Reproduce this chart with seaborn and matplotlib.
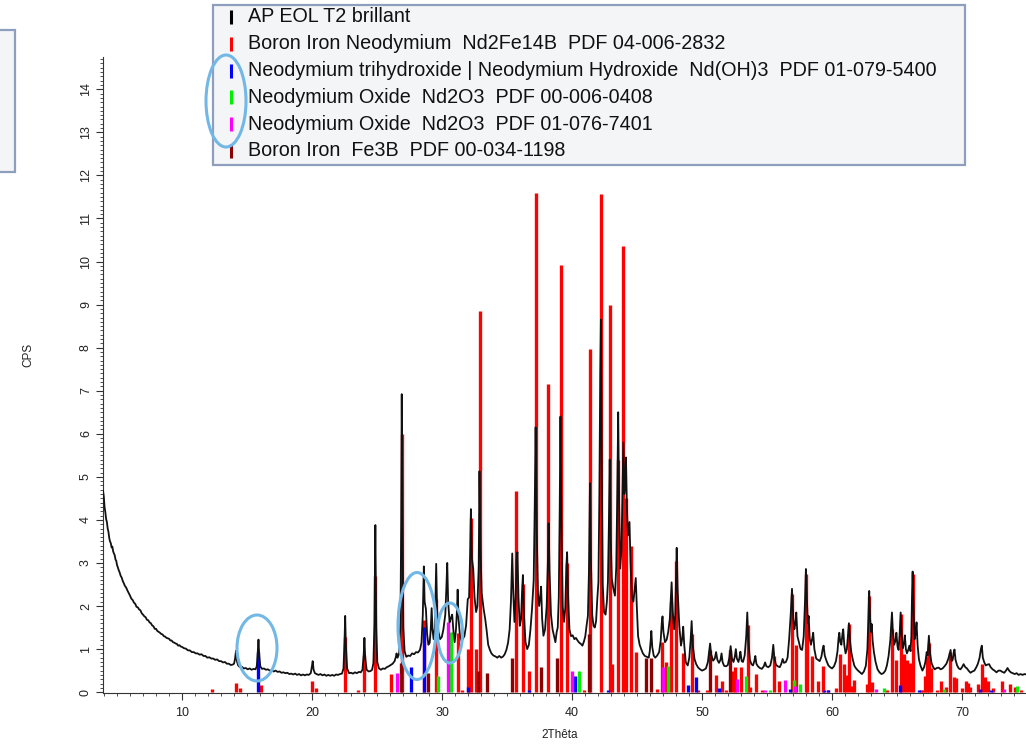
import matplotlib
matplotlib.use("Agg")
from matplotlib import pyplot as plt
from matplotlib.patches import Rectangle, Ellipse
from matplotlib.lines import Line2D
from matplotlib.ticker import MultipleLocator
import numpy as np
import pandas as pd
import seaborn as sns

scan_low = [
    (3.92, 4.68), (3.98, 4.55), (4.04, 4.30), (4.10, 4.18), (4.16, 4.02), (4.22, 3.95), (4.28, 3.80),
    (4.34, 3.72), (4.40, 3.58), (4.46, 3.50), (4.52, 3.46), (4.58, 3.36), (4.64, 3.38), (4.70, 3.27),
    (4.76, 3.22), (4.82, 3.18), (4.88, 3.08), (4.94, 3.05), (5.00, 2.95), (5.06, 2.90), (5.12, 2.84),
    (5.20, 2.78), (5.28, 2.70), (5.36, 2.66), (5.44, 2.58), (5.52, 2.53), (5.60, 2.47), (5.70, 2.43),
    (5.80, 2.36), (5.90, 2.30), (6.00, 2.24), (6.10, 2.17), (6.20, 2.14), (6.30, 2.08), (6.40, 2.05),
    (6.50, 1.98), (6.60, 1.97), (6.70, 1.92), (6.80, 1.90), (6.90, 1.83), (7.00, 1.80), (7.10, 1.76),
    (7.20, 1.74), (7.30, 1.68), (7.40, 1.67), (7.50, 1.62), (7.60, 1.60), (7.70, 1.55), (7.80, 1.53),
    (7.90, 1.47), (8.00, 1.47), (8.10, 1.42), (8.20, 1.40), (8.30, 1.38), (8.40, 1.35), (8.50, 1.34),
    (8.60, 1.30), (8.70, 1.29), (8.80, 1.26), (8.90, 1.25), (9.00, 1.24), (9.10, 1.20), (9.20, 1.20),
    (9.30, 1.16), (9.40, 1.15), (9.50, 1.13), (9.60, 1.12), (9.70, 1.08), (9.80, 1.09), (9.90, 1.06),
    (10.00, 1.05), (10.15, 1.02), (10.30, 1.01), (10.45, 0.97), (10.60, 0.97), (10.75, 0.93),
    (10.90, 0.93), (11.05, 0.90), (11.20, 0.90), (11.35, 0.87), (11.50, 0.88), (11.65, 0.84),
    (11.80, 0.84), (11.95, 0.80), (12.10, 0.81), (12.25, 0.78), (12.40, 0.78), (12.55, 0.75),
    (12.70, 0.76), (12.85, 0.72), (13.00, 0.72), (13.15, 0.69), (13.30, 0.70), (13.45, 0.66),
    (13.60, 0.66), (13.75, 0.63), (13.90, 0.64), (14.00, 0.66), (14.08, 0.78), (14.15, 0.96),
    (14.22, 0.72), (14.32, 0.62), (14.45, 0.58), (14.60, 0.59), (14.75, 0.55), (14.90, 0.56),
    (15.05, 0.53), (15.20, 0.55), (15.35, 0.52), (15.50, 0.54), (15.65, 0.53), (15.75, 0.60),
    (15.82, 0.90), (15.88, 1.22), (15.94, 0.85), (16.02, 0.60), (16.15, 0.54), (16.30, 0.55),
    (16.45, 0.52), (16.60, 0.53), (16.75, 0.50), (16.90, 0.51), (17.05, 0.48), (17.20, 0.50),
    (17.35, 0.47), (17.50, 0.48), (17.65, 0.45), (17.80, 0.46), (17.95, 0.44), (18.10, 0.45),
    (18.25, 0.42), (18.40, 0.43), (18.55, 0.41), (18.70, 0.43), (18.85, 0.40), (19.00, 0.42),
    (19.15, 0.39), (19.30, 0.41), (19.45, 0.39), (19.60, 0.41), (19.75, 0.40), (19.90, 0.44),
    (19.98, 0.58), (20.05, 0.72), (20.12, 0.52), (20.22, 0.44), (20.35, 0.42), (20.50, 0.40),
    (20.65, 0.42), (20.80, 0.39), (20.95, 0.41), (21.10, 0.38), (21.25, 0.40), (21.40, 0.38),
    (21.55, 0.40), (21.70, 0.38), (21.85, 0.41), (22.00, 0.40), (22.15, 0.42), (22.30, 0.43),
    (22.42, 0.55), (22.50, 1.20), (22.55, 1.77), (22.60, 1.10), (22.70, 0.55), (22.85, 0.44),
    (23.00, 0.45), (23.15, 0.43), (23.30, 0.46), (23.45, 0.44), (23.60, 0.47), (23.75, 0.46),
    (23.88, 0.52), (23.97, 0.85), (24.03, 1.26), (24.09, 0.80), (24.20, 0.52), (24.35, 0.48),
    (24.50, 0.49), (24.62, 0.52), (24.72, 0.68), (24.80, 1.60), (24.87, 3.88), (24.94, 1.50),
    (25.02, 0.70), (25.15, 0.55), (25.30, 0.52), (25.45, 0.55), (25.60, 0.54), (25.75, 0.58),
    (25.90, 0.60), (26.05, 0.63), (26.20, 0.66), (26.35, 0.72), (26.45, 0.82), (26.50, 0.90),
    (26.58, 0.80), (26.70, 0.90), (26.80, 1.60), (26.86, 4.00), (26.90, 6.92), (26.95, 4.20),
    (27.02, 1.50), (27.12, 0.95), (27.25, 0.82), (27.40, 0.85), (27.55, 0.84), (27.70, 0.90),
    (27.85, 0.88), (28.00, 0.93), (28.15, 0.92), (28.30, 0.98),
]
scan_mid = [
    (28.42, 1.15), (28.52, 1.80), (28.60, 2.92), (28.66, 2.10), (28.76, 1.93), (28.85, 1.35),
    (28.95, 1.10), (29.05, 1.15), (29.13, 1.45), (29.20, 1.95), (29.27, 1.45), (29.35, 1.23),
    (29.45, 1.50), (29.55, 2.98), (29.62, 1.90), (29.72, 1.40), (29.85, 1.23), (29.98, 1.28),
    (30.10, 1.45), (30.25, 1.80), (30.33, 2.40), (30.40, 3.00), (30.47, 2.10), (30.58, 1.62),
    (30.68, 1.72), (30.78, 1.80), (30.88, 1.40), (30.97, 1.16), (31.07, 1.45), (31.15, 1.90),
    (31.20, 2.38), (31.27, 1.70), (31.38, 1.30), (31.50, 1.19), (31.62, 1.25), (31.72, 1.30),
    (31.85, 1.55), (31.98, 2.16), (32.08, 2.20), (32.16, 3.20), (32.22, 4.25), (32.30, 3.10),
    (32.40, 2.86), (32.50, 2.20), (32.62, 1.86), (32.72, 2.00), (32.82, 2.90), (32.88, 5.13),
    (32.95, 3.40), (33.05, 2.30), (33.20, 1.93), (33.32, 1.70), (33.42, 1.46), (33.55, 1.10),
    (33.68, 0.98), (33.80, 0.90), (33.95, 0.85), (34.10, 0.83), (34.25, 0.80), (34.40, 0.84),
    (34.55, 0.80), (34.70, 0.83), (34.82, 0.88), (34.95, 0.98), (35.08, 1.15), (35.20, 1.46),
    (35.30, 2.10), (35.40, 3.22), (35.48, 2.30), (35.57, 1.63), (35.66, 2.20), (35.74, 3.10),
    (35.80, 3.25), (35.88, 2.20), (35.98, 1.54), (36.08, 1.70), (36.15, 2.30), (36.22, 2.72),
    (36.30, 1.80), (36.42, 1.16), (36.55, 1.00), (36.68, 1.10), (36.80, 1.45), (36.92, 1.93),
    (37.05, 2.60), (37.13, 4.30), (37.20, 6.15), (37.28, 3.80), (37.38, 2.30), (37.47, 2.00),
    (37.55, 2.20), (37.62, 2.45), (37.70, 1.70), (37.80, 1.31), (37.92, 1.45), (38.05, 2.00),
    (38.14, 3.00), (38.20, 3.92), (38.27, 2.80), (38.38, 1.80), (38.50, 1.46), (38.62, 1.30),
    (38.72, 1.16), (38.82, 1.40), (38.90, 1.50), (38.98, 2.20), (39.05, 4.20), (39.11, 6.40),
    (39.18, 3.90), (39.28, 2.00), (39.38, 1.63), (39.48, 1.95), (39.56, 2.90), (39.62, 3.25),
    (39.70, 2.20), (39.80, 1.46), (39.92, 1.30), (40.05, 1.32), (40.18, 1.23), (40.30, 1.26),
    (40.42, 1.20), (40.55, 1.15), (40.68, 1.12), (40.80, 1.08), (40.92, 1.18), (41.02, 1.30),
    (41.12, 1.55), (41.22, 1.77), (41.30, 2.80), (41.38, 4.85), (41.45, 3.10), (41.55, 1.80),
    (41.65, 1.54), (41.75, 1.50), (41.85, 1.65), (41.95, 2.20), (42.03, 2.56), (42.10, 4.50),
    (42.17, 7.40), (42.22, 8.65), (42.28, 5.50), (42.36, 2.50), (42.46, 1.86), (42.58, 1.80),
    (42.68, 2.10), (42.76, 2.56), (42.83, 3.80), (42.90, 5.40), (42.97, 3.60), (43.06, 2.63),
    (43.18, 2.40), (43.30, 2.24), (43.40, 2.90), (43.48, 4.60), (43.55, 6.50), (43.62, 4.40),
    (43.70, 2.87), (43.80, 3.30), (43.88, 4.60), (43.95, 5.80), (44.02, 4.60), (44.08, 4.80),
    (44.15, 5.45), (44.22, 4.30), (44.30, 3.64), (44.36, 3.80), (44.42, 3.95), (44.50, 3.00),
    (44.60, 2.24), (44.72, 2.10), (44.82, 2.40), (44.90, 2.65), (44.98, 2.00), (45.08, 1.30),
    (45.20, 1.10), (45.32, 1.00), (45.45, 0.90), (45.60, 0.84), (45.75, 0.82), (45.90, 0.80),
    (45.98, 0.95), (46.05, 1.20), (46.10, 1.42), (46.17, 1.05), (46.28, 0.85), (46.40, 0.80),
    (46.55, 0.85), (46.70, 0.93), (46.82, 1.20), (46.90, 1.60), (46.96, 1.76), (47.03, 1.40),
    (47.15, 1.16), (47.28, 1.22), (47.40, 1.40), (47.52, 1.70), (47.60, 2.20), (47.66, 2.55),
    (47.74, 1.90), (47.85, 1.46), (47.94, 1.80), (48.00, 2.60), (48.05, 3.35), (48.12, 2.40),
    (48.25, 1.54), (48.38, 1.08), (48.48, 1.25), (48.55, 1.52), (48.63, 1.10), (48.75, 0.69),
]
scan_high = [
    (48.90, 0.62), (49.02, 0.80), (49.12, 1.20), (49.20, 1.65), (49.28, 1.10), (49.42, 0.77),
    (49.55, 0.65), (49.70, 0.57), (49.85, 0.53), (50.00, 0.50), (50.15, 0.52), (50.30, 0.55),
    (50.45, 0.70), (50.55, 0.95), (50.62, 1.13), (50.70, 0.88), (50.85, 0.73), (50.98, 0.78),
    (51.08, 0.93), (51.18, 0.75), (51.30, 0.68), (51.42, 0.75), (51.50, 0.90), (51.58, 0.70),
    (51.70, 0.61), (51.85, 0.60), (51.98, 0.63), (52.10, 0.80), (52.20, 1.07), (52.30, 0.78),
    (52.42, 0.70), (52.52, 0.82), (52.60, 1.00), (52.68, 0.78), (52.80, 0.70), (52.88, 0.80),
    (52.95, 0.94), (53.05, 0.72), (53.15, 0.70), (53.28, 0.85), (53.40, 1.30), (53.48, 1.85),
    (53.56, 1.20), (53.68, 0.75), (53.80, 0.65), (53.92, 0.62), (54.02, 0.72), (54.10, 0.84),
    (54.18, 0.66), (54.30, 0.60), (54.45, 0.56), (54.60, 0.54), (54.75, 0.60), (54.85, 0.69),
    (54.95, 0.60), (55.10, 0.58), (55.25, 0.62), (55.38, 0.80), (55.48, 1.10), (55.56, 0.80),
    (55.68, 0.64), (55.82, 0.60), (55.98, 0.58), (56.10, 0.66), (56.20, 0.77), (56.30, 0.68),
    (56.45, 0.70), (56.58, 0.80), (56.70, 1.23), (56.82, 1.80), (56.92, 2.40), (57.02, 1.70),
    (57.10, 1.46), (57.18, 1.60), (57.25, 1.85), (57.34, 1.30), (57.45, 1.16), (57.58, 1.00),
    (57.70, 0.98), (57.82, 1.30), (57.92, 2.10), (57.99, 2.86), (58.06, 2.20), (58.14, 1.60),
    (58.20, 1.77), (58.28, 1.25), (58.38, 1.10), (58.48, 1.25), (58.55, 1.38), (58.64, 1.00),
    (58.78, 0.78), (58.92, 0.75), (59.05, 0.72), (59.18, 0.82), (59.28, 1.00), (59.35, 1.08),
    (59.44, 0.85), (59.58, 0.72), (59.72, 0.62), (59.85, 0.58), (60.00, 0.55), (60.15, 0.60),
    (60.30, 0.72), (60.42, 0.95), (60.50, 1.25), (60.56, 1.38), (60.64, 1.15), (60.72, 1.10),
    (60.80, 1.35), (60.86, 1.46), (60.94, 1.10), (61.04, 0.90), (61.14, 1.00), (61.22, 1.30),
    (61.30, 1.60), (61.38, 1.20), (61.48, 0.93), (61.60, 0.75), (61.72, 0.61), (61.85, 0.55),
    (62.00, 0.50), (62.15, 0.46), (62.30, 0.42), (62.45, 0.48), (62.60, 0.61), (62.72, 1.00),
    (62.80, 1.80), (62.86, 2.35), (62.93, 1.70), (63.00, 1.40), (63.05, 1.58), (63.12, 1.20),
    (63.22, 0.93), (63.35, 0.70), (63.50, 0.53), (63.65, 0.46), (63.80, 0.42), (63.95, 0.44),
    (64.10, 0.50), (64.22, 0.62), (64.35, 0.84), (64.48, 1.20), (64.56, 1.60), (64.61, 1.85),
    (64.68, 1.40), (64.78, 1.10), (64.88, 1.20), (64.95, 1.38), (65.04, 1.05), (65.12, 0.98),
    (65.20, 1.35), (65.28, 1.85), (65.36, 1.30), (65.45, 1.02), (65.54, 1.15), (65.60, 1.32),
    (65.68, 1.00), (65.76, 0.90), (65.86, 0.98), (65.95, 1.08), (66.04, 0.95), (66.10, 1.30),
    (66.15, 2.20), (66.20, 2.80), (66.27, 1.90), (66.36, 1.23), (66.44, 1.40), (66.50, 1.62),
    (66.58, 1.10), (66.68, 0.77), (66.80, 0.62), (66.95, 0.50), (67.08, 0.58), (67.18, 0.70),
    (67.28, 0.93), (67.35, 0.85), (67.45, 1.31), (67.54, 0.90), (67.65, 0.68), (67.78, 0.58),
    (67.90, 0.53), (68.05, 0.56), (68.20, 0.57), (68.35, 0.53), (68.50, 0.55), (68.65, 0.60),
    (68.80, 0.66), (68.95, 0.78), (69.05, 0.90), (69.12, 0.98), (69.20, 0.72), (69.28, 0.75),
    (69.36, 0.92), (69.42, 0.99), (69.50, 0.75), (69.62, 0.62), (69.75, 0.55), (69.88, 0.53),
    (70.00, 0.58), (70.12, 0.65), (70.25, 0.58), (70.38, 0.55), (70.50, 0.50), (70.65, 0.45),
    (70.80, 0.48), (70.95, 0.50), (71.10, 0.58), (71.22, 0.66), (71.35, 0.80), (71.45, 1.00),
    (71.52, 1.08), (71.60, 0.80), (71.70, 0.70), (71.82, 0.62), (71.95, 0.64), (72.08, 0.65),
    (72.20, 0.58), (72.35, 0.53), (72.50, 0.50), (72.65, 0.46), (72.80, 0.50), (72.95, 0.50),
    (73.10, 0.47), (73.25, 0.45), (73.38, 0.50), (73.50, 0.56), (73.62, 0.50), (73.75, 0.46),
    (73.90, 0.44), (74.05, 0.42), (74.20, 0.44), (74.35, 0.40), (74.50, 0.42), (74.65, 0.40),
    (74.80, 0.42), (74.95, 0.41),
]

# reference patterns (position, height)
nd2fe14b = [
    (12.3, 0.08), (14.15, 0.22), (14.45, 0.10), (16.08, 0.16), (20.0, 0.26), (20.3, 0.10),
    (22.5, 1.27), (23.5, 0.04), (24.02, 0.87), (24.85, 2.70), (26.08, 0.42), (26.92, 6.00),
    (28.62, 1.68), (29.52, 2.17), (31.2, 1.37), (31.55, 0.05), (32.02, 1.00), (32.2, 4.05),
    (32.6, 1.00), (32.92, 8.84), (35.72, 4.68), (36.2, 2.50), (36.68, 0.50), (37.2, 11.60),
    (38.18, 7.16), (39.12, 9.93), (39.6, 3.00), (40.9, 0.05), (41.38, 7.96), (42.22, 11.56),
    (42.9, 9.00), (43.08, 0.65), (43.55, 5.38), (43.9, 10.35), (44.12, 4.50), (44.5, 3.40),
    (44.92, 0.93), (46.5, 0.08), (46.9, 1.16), (47.2, 0.70), (47.62, 2.10), (48.02, 3.05),
    (48.5, 0.90), (49.2, 1.35), (49.7, 0.05), (50.4, 0.05), (51.1, 0.39), (51.5, 0.27),
    (51.85, 0.05), (52.35, 0.50), (52.52, 0.58), (52.97, 0.58), (53.5, 1.55), (53.7, 0.12),
    (54.12, 0.42), (54.65, 0.04), (55.5, 0.85), (55.9, 0.25), (56.9, 2.28), (57.25, 1.10),
    (57.98, 2.75), (58.1, 1.67), (58.45, 0.85), (58.95, 0.26), (59.3, 0.60), (59.7, 0.05),
    (60.3, 0.10), (60.6, 0.89), (60.92, 0.66), (61.1, 0.40), (61.28, 1.58), (61.55, 0.15),
    (61.7, 0.28), (62.7, 0.18), (62.85, 2.23), (63.05, 0.24), (64.25, 0.05), (64.6, 1.47),
    (64.9, 0.74), (65.27, 1.81), (65.5, 0.88), (65.8, 0.74), (66.0, 0.68), (66.2, 2.75),
    (66.85, 0.04), (66.97, 0.04), (67.15, 0.38), (67.3, 0.84), (67.42, 1.15), (67.6, 0.55),
    (68.1, 0.05), (68.4, 0.25), (68.75, 0.12), (69.1, 0.93), (69.4, 0.35), (69.55, 0.33),
    (70.0, 0.10), (70.3, 0.25), (70.45, 0.22), (70.65, 0.12), (71.2, 0.18), (71.5, 0.65),
    (71.8, 0.35), (72.0, 0.27), (72.4, 0.10), (73.05, 0.27), (73.7, 0.20), (74.1, 0.12),
    (74.5, 0.06),
]
nd_oh3 = [
    (15.88, 0.93), (27.6, 0.58), (28.58, 1.52), (32.0, 0.12), (36.7, 0.06), (40.2, 0.38),
    (42.8, 0.06), (48.9, 0.16), (49.5, 0.36), (51.3, 0.10), (56.75, 0.08), (59.35, 0.06),
    (59.7, 0.06), (65.2, 0.16), (66.7, 0.06), (71.4, 0.08), (72.2, 0.06),
]
nd2o3_a = [
    (29.7, 0.38), (30.72, 1.40), (40.5, 0.50), (47.36, 0.60), (53.4, 0.38), (55.2, 0.05),
    (57.05, 0.28), (57.55, 0.20), (64.0, 0.10), (68.6, 0.08), (74.2, 0.15),
]
nd2o3_b = [
    (26.5, 0.44), (30.42, 1.62), (39.98, 0.48), (47.0, 0.58), (52.68, 0.30), (54.85, 0.04),
    (56.35, 0.28), (57.12, 0.15), (63.4, 0.07), (73.2, 0.07),
]
fe3b = [
    (26.85, 0.68), (28.95, 0.45), (32.75, 0.50), (33.42, 0.44), (35.4, 0.80), (37.58, 0.58),
    (38.82, 0.80), (41.3, 1.36), (45.7, 0.80), (46.1, 0.80), (50.6, 0.98), (52.17, 0.98),
]

legend_labels = [
    "AP EOL T2 brillant",
    "Boron Iron Neodymium  Nd2Fe14B  PDF 04-006-2832",
    "Neodymium trihydroxide | Neodymium Hydroxide  Nd(OH)3  PDF 01-079-5400",
    "Neodymium Oxide  Nd2O3  PDF 00-006-0408",
    "Neodymium Oxide  Nd2O3  PDF 01-076-7401",
    "Boron Iron  Fe3B  PDF 00-034-1198",
]
colors = ["#000000", "#ff0000", "#0000ff", "#00ee00", "#ff00ff", "#8b0000"]

sns.set_style("ticks")
plt.rcParams['font.family'] = ['Liberation Sans', 'DejaVu Sans']

W, H = 1026, 748
fig = plt.figure(figsize=(W / 100, H / 100), dpi=100)
ax = fig.add_axes([103 / W, 55 / H, (W - 103) / W, (693 - 57) / H])


def fx(x):
    return x / W


def fy(y):
    return 1 - y / H


# stick patterns
for sticks, c in [(nd2fe14b, colors[1]), (fe3b, colors[5]), (nd_oh3, colors[2]),
                  (nd2o3_a, colors[3]), (nd2o3_b, colors[4])]:
    pos = [p for p, h in sticks]
    hts = [h for p, h in sticks]
    ax.vlines(pos, 0, hts, colors=c, linewidth=2.4, capstyle='butt', zorder=2)

scan = pd.DataFrame(scan_low + scan_mid + scan_high, columns=['2theta', 'cps'])
sns.lineplot(data=scan, x='2theta', y='cps', color='#111111', linewidth=1.3,
             sort=False, estimator=None, ax=ax, zorder=3)

ax.set_xlim(3.92, 74.92)
ax.set_ylim(-0.02, 14.75)
sns.despine(ax=ax, top=True, right=True)
for s in ['left', 'bottom']:
    ax.spines[s].set_linewidth(0.8)
    ax.spines[s].set_color('#333333')

ax.xaxis.set_major_locator(MultipleLocator(10))
ax.xaxis.set_minor_locator(MultipleLocator(1))
ax.yaxis.set_major_locator(MultipleLocator(1))
ax.yaxis.set_minor_locator(MultipleLocator(0.1))
ax.tick_params(axis='both', which='major', length=5, width=0.8, color='#333333',
               labelsize=9, pad=3, labelcolor='#222222')
ax.tick_params(axis='x', which='major', pad=5)
ax.tick_params(axis='both', which='minor', length=2.5, width=0.6, color='#333333')
for lab in ax.get_yticklabels():
    lab.set_rotation(90)
    lab.set_va('center')

ax.set_xlabel('2Thêta', fontsize=8.5, color='#222222')
ax.set_ylabel('CPS', fontsize=8.5, color='#222222')
ax.xaxis.set_label_coords((560 - 103) / 923, (693 - 735) / 636)
ax.xaxis.label.set_va('center')
ax.yaxis.set_label_coords((28 - 103) / 923, (693 - 355) / 636)
ax.yaxis.label.set_va('center')

# legend panel
fig.patches.append(Rectangle((fx(213), fy(165)), fx(965 - 213), (165 - 5) / H,
                             transform=fig.transFigure, facecolor='#f4f5f7',
                             edgecolor='#8e9fbd', linewidth=1.6, zorder=5))
for i, (lab, c) in enumerate(zip(legend_labels, colors)):
    yc = 17 + i * 26.8
    fig.lines.append(Line2D([fx(231), fx(231)], [fy(yc + 7), fy(yc - 7)],
                            transform=fig.transFigure, color=c, linewidth=2.2,
                            solid_capstyle='butt', zorder=6))
    fig.text(fx(248), fy(yc), lab, fontsize=14.2, va='center', ha='left',
             color='#111111', zorder=6)

# left neighbour panel, cut by the screenshot
fig.patches.append(Rectangle((fx(-10), fy(172)), fx(25), (172 - 30) / H,
                             transform=fig.transFigure, facecolor='#f4f5f7',
                             edgecolor='#8e9fbd', linewidth=1.6, zorder=5))

# highlight ellipses
for cx, cy, w, h in [(226, 101, 40, 92), (257, 648, 40, 66), (417, 626, 38, 107),
                     (450, 633, 25, 60)]:
    fig.patches.append(Ellipse((fx(cx), fy(cy)), w / W, h / H, transform=fig.transFigure,
                               facecolor='none', edgecolor='#72b8e6', linewidth=2.2,
                               zorder=7))

fig.savefig('out.png', dpi=100)
